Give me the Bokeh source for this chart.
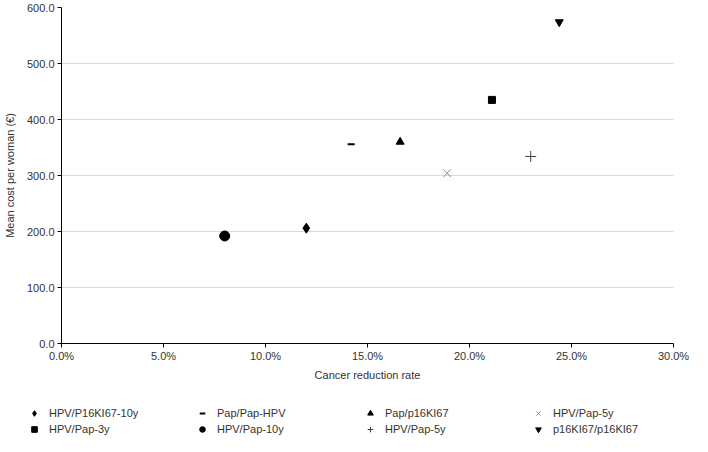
from bokeh.plotting import figure
from bokeh.layouts import column
from bokeh.models import Range1d, PrintfTickFormatter, Legend, LegendItem, FixedTicker
from bokeh.embed import file_html
from bokeh.resources import INLINE

# ---- data ----
strategies = ["HPV/P16KI67-10y", "Pap/Pap-HPV", "Pap/p16KI67", "HPV/Pap-5y",
              "HPV/Pap-3y", "HPV/Pap-10y", "HPV/Pap-5y", "p16KI67/p16KI67"]
reduction_pct = [12.0, 14.2, 16.6, 18.9, 21.1, 8.0, 23.0, 24.4]
mean_cost = [206.0, 356.0, 360.0, 304.0, 435.0, 192.0, 334.0, 574.0]
x_ticks = [0, 5, 10, 15, 20, 25, 30]
y_ticks = [0, 100, 200, 300, 400, 500, 600]

# ---- styles ----
styles = [
    dict(marker="diamond", size=10, color="black", lw=1),
    dict(marker="dash", size=7, color="black", lw=2),
    dict(marker="triangle", size=8, color="black", lw=1),
    dict(marker="x", size=11, color="#8c8c8c", lw=1),
    dict(marker="square", size=7, color="black", lw=1),
    dict(marker="circle", size=10, color="black", lw=1),
    dict(marker="cross", size=11, color="#404040", lw=1),
    dict(marker="inverted_triangle", size=8, color="black", lw=1),
]

FONT = "Liberation Sans"
TXT = "#333333"
W = 692

p = figure(width=W, height=387, x_range=Range1d(0, 30), y_range=Range1d(0, 600),
           output_backend="svg", toolbar_location=None,
           min_border_left=59, min_border_right=19, min_border_top=7, min_border_bottom=44)
p.outline_line_color = None

for i, (name, xv, yv) in enumerate(zip(strategies, reduction_pct, mean_cost)):
    s = styles[i]
    p.scatter(x=[xv], y=[yv], marker=s["marker"], size=s["size"],
              fill_color=s["color"], line_color=s["color"], line_width=s["lw"])

p.xaxis.ticker = FixedTicker(ticks=x_ticks)
p.yaxis.ticker = FixedTicker(ticks=y_ticks)
p.xaxis.formatter = PrintfTickFormatter(format="%.1f%%")
p.yaxis.formatter = PrintfTickFormatter(format="%.1f")
p.xaxis.axis_label = "Cancer reduction rate"
p.yaxis.axis_label = "Mean cost per woman (€)"

for ax in (p.xaxis, p.yaxis):
    ax.axis_line_color = "black"
    ax.axis_line_width = 1
    ax.major_tick_line_color = "black"
    ax.major_tick_out = 4
    ax.major_tick_in = 0
    ax.minor_tick_line_color = None
    ax.major_label_text_font = FONT
    ax.major_label_text_font_size = "11px"
    ax.major_label_text_color = TXT
    ax.axis_label_text_font = FONT
    ax.axis_label_text_font_size = "11px"
    ax.axis_label_text_font_style = "normal"
    ax.axis_label_text_color = TXT

p.xaxis.major_label_standoff = 2
p.xaxis.axis_label_standoff = 4
p.yaxis.major_label_standoff = 3
p.yaxis.axis_label_standoff = 8

p.xgrid.grid_line_color = None
p.ygrid.grid_line_color = "#d9d9d9"
p.ygrid.grid_line_width = 1

# ---- legend strip below the chart (its ranges keep the key's own points out of view) ----
q = figure(width=W, height=49, x_range=Range1d(-2, -1), y_range=Range1d(-2, -1),
           output_backend="svg", toolbar_location=None,
           x_axis_type=None, y_axis_type=None,
           min_border_left=0, min_border_right=0, min_border_top=0, min_border_bottom=0)
q.outline_line_color = None
q.grid.visible = False

# keep the strip's frame independent of the chart's frame in the column layout
for fig in (p, q):
    if "frame_align" in fig.properties():
        fig.frame_align = False

items = []
for i, (name, xv, yv) in enumerate(zip(strategies, reduction_pct, mean_cost)):
    s = styles[i]
    r = q.scatter(x=[xv], y=[yv], marker=s["marker"], size=s["size"],
                  fill_color=s["color"], line_color=s["color"], line_width=s["lw"])
    items.append(LegendItem(label=name, renderers=[r]))


def make_legend(its, loc):
    lg = Legend(items=its, orientation="horizontal", location=loc)
    lg.label_text_font = FONT
    lg.label_text_font_size = "11px"
    lg.label_text_color = TXT
    lg.glyph_width = 16
    lg.glyph_height = 14
    lg.label_standoff = 7
    lg.label_width = 137
    lg.label_height = 14
    lg.spacing = 8
    lg.padding = 0
    lg.margin = 0
    lg.border_line_color = None
    lg.background_fill_alpha = 0
    return lg


q.add_layout(make_legend(items[:4], (26, 16)), "center")
q.add_layout(make_legend(items[4:], (26, 0)), "center")

layout = column(p, q, spacing=0)
open("out.html", "w").write(file_html(layout, INLINE))
